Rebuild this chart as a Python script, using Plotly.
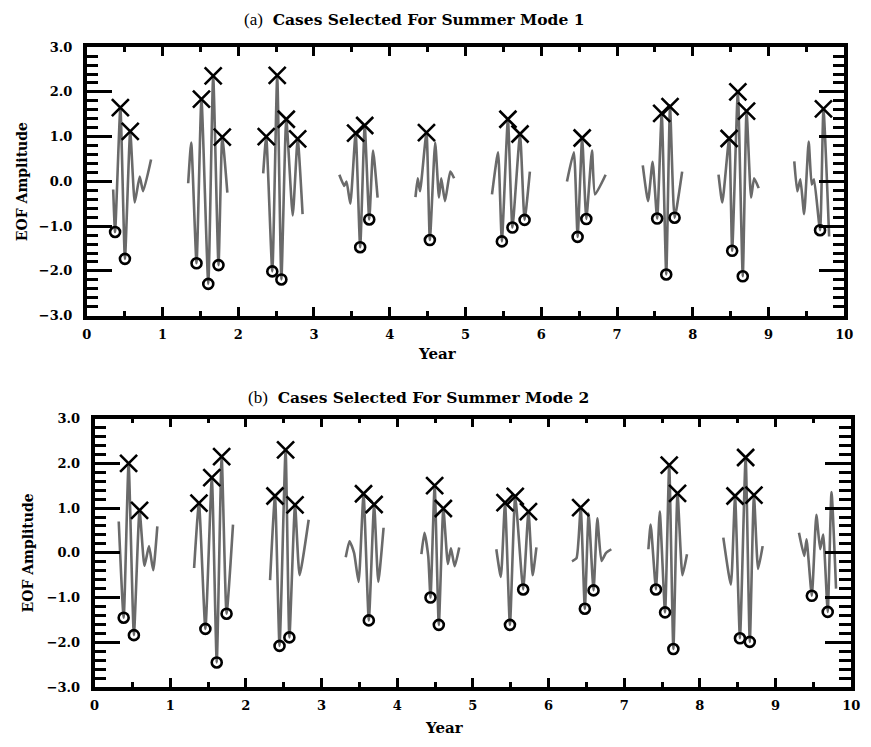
import plotly.graph_objects as go

# ---------------- data (years, EOF amplitude); None separates summers ----------------
MODE1_T = [0.35, 0.375, 0.445, 0.505, 0.575, 0.635, 0.70, 0.745, 0.85, None,
           1.34, 1.38, 1.45, 1.515, 1.605, 1.67, 1.74, 1.79, 1.857, None,
           2.33, 2.37, 2.45, 2.515, 2.57, 2.635, 2.72, 2.785, 2.85, None,
           3.335, 3.40, 3.43, 3.48, 3.55, 3.61, 3.67, 3.73, 3.78, 3.84, None,
           4.34, 4.37, 4.40, 4.485, 4.53, 4.60, 4.65, 4.68, 4.73, 4.80, 4.85, None,
           5.35, 5.43, 5.48, 5.56, 5.62, 5.72, 5.78, 5.85, None,
           6.34, 6.43, 6.48, 6.54, 6.595, 6.67, 6.71, 6.85, None,
           7.34, 7.41, 7.47, 7.53, 7.59, 7.65, 7.70, 7.76, 7.86, None,
           8.34, 8.39, 8.48, 8.52, 8.595, 8.66, 8.71, 8.77, 8.81, 8.87, None,
           9.34, 9.38, 9.42, 9.47, 9.53, 9.57, 9.60, 9.68, 9.725, 9.80]
MODE1_V = [-0.18, -1.13, 1.65, -1.73, 1.12, -0.47, 0.11, -0.22, 0.49, None,
           -0.04, 0.87, -1.83, 1.84, -2.29, 2.36, -1.87, 0.99, -0.25, None,
           0.18, 1.0, -2.01, 2.37, -2.19, 1.39, -0.76, 0.95, -0.73, None,
           0.15, -0.1, 0.0, -0.5, 1.08, -1.47, 1.25, -0.85, 0.69, -0.36, None,
           -0.35, 0.07, -0.22, 1.09, -1.31, 0.87, -0.36, 0.07, -0.44, 0.22, 0.07, None,
           -0.29, 0.65, -1.34, 1.39, -1.03, 1.06, -0.86, 0.22, None,
           0.0, 0.65, -1.24, 0.97, -0.84, 0.69, -0.29, 0.15, None,
           0.36, -0.44, 0.44, -0.83, 1.52, -2.08, 1.67, -0.81, 0.22, None,
           0.15, -0.47, 0.96, -1.55, 2.0, -2.12, 1.57, -0.36, 0.07, -0.15, None,
           0.45, -0.22, 0.05, -0.73, 0.89, -0.07, 0.05, -1.09, 1.62, -1.23]
MODE1_PEAK_T = [0.445, 0.575, 1.515, 1.67, 1.79, 2.37, 2.515, 2.635, 2.785, 3.55, 3.67,
                4.485, 5.56, 5.72, 6.54, 7.59, 7.70, 8.48, 8.595, 8.71, 9.725]
MODE1_PEAK_V = [1.65, 1.12, 1.84, 2.36, 0.99, 1.0, 2.37, 1.39, 0.95, 1.08, 1.25,
                1.09, 1.39, 1.06, 0.97, 1.52, 1.67, 0.96, 2.0, 1.57, 1.62]
MODE1_TROUGH_T = [0.375, 0.505, 1.45, 1.605, 1.74, 2.45, 2.57, 3.61, 3.73, 4.53,
                  5.48, 5.62, 5.78, 6.48, 6.595, 7.53, 7.65, 7.76, 8.52, 8.66, 9.68]
MODE1_TROUGH_V = [-1.13, -1.73, -1.83, -2.29, -1.87, -2.01, -2.19, -1.47, -0.85, -1.31,
                  -1.34, -1.03, -0.86, -1.24, -0.84, -0.83, -2.08, -0.81, -1.55, -2.12, -1.09]

MODE2_T = [0.32, 0.385, 0.45, 0.52, 0.595, 0.66, 0.72, 0.775, 0.83, None,
           1.316, 1.38, 1.465, 1.55, 1.615, 1.68, 1.745, 1.83, None,
           2.32, 2.385, 2.445, 2.525, 2.575, 2.65, 2.71, 2.83, None,
           3.32, 3.37, 3.43, 3.49, 3.555, 3.625, 3.695, 3.75, 3.82, None,
           4.32, 4.36, 4.41, 4.44, 4.495, 4.55, 4.61, 4.67, 4.71, 4.76, 4.82, None,
           5.31, 5.37, 5.425, 5.49, 5.56, 5.665, 5.735, 5.79, 5.84, None,
           6.31, 6.37, 6.425, 6.48, 6.53, 6.595, 6.645, 6.70, 6.76, 6.83, None,
           7.32, 7.35, 7.42, 7.47, 7.54, 7.595, 7.65, 7.705, 7.77, 7.83, None,
           8.31, 8.41, 8.465, 8.53, 8.605, 8.66, 8.715, 8.77, 8.83, None,
           9.31, 9.38, 9.41, 9.48, 9.54, 9.59, 9.63, 9.69, 9.74, 9.80]
MODE2_V = [0.70, -1.45, 2.0, -1.84, 0.95, -0.29, 0.15, -0.39, 0.59, None,
           -0.34, 1.11, -1.70, 1.68, -2.45, 2.15, -1.36, 0.63, None,
           -0.61, 1.27, -2.08, 2.30, -1.89, 1.07, -0.50, 0.74, None,
           -0.10, 0.26, 0.0, -0.65, 1.32, -1.51, 1.08, -0.65, 0.56, None,
           -0.03, 0.45, -0.07, -1.0, 1.50, -1.61, 0.99, -0.25, 0.10, -0.30, 0.12, None,
           0.08, -0.54, 1.12, -1.61, 1.26, -0.82, 0.92, -0.50, 0.12, None,
           -0.19, -0.12, 1.01, -1.25, 0.88, -0.84, 0.77, -0.18, 0.0, 0.08, None,
           0.08, 0.63, -0.82, 0.92, -1.33, 1.96, -2.15, 1.33, -0.50, -0.03, None,
           0.34, -0.71, 1.27, -1.91, 2.13, -1.99, 1.29, -0.36, 0.15, None,
           0.45, -0.07, 0.30, -0.96, 0.85, 0.08, 0.41, -1.32, 1.36, -0.80]
MODE2_PEAK_T = [0.45, 0.595, 1.38, 1.55, 1.68, 2.385, 2.525, 2.65, 3.555, 3.695,
                4.495, 4.61, 5.425, 5.56, 5.735, 6.425, 7.595, 7.705, 8.465, 8.605, 8.715]
MODE2_PEAK_V = [2.0, 0.95, 1.11, 1.68, 2.15, 1.27, 2.30, 1.07, 1.32, 1.08,
                1.50, 0.99, 1.12, 1.26, 0.92, 1.01, 1.96, 1.33, 1.27, 2.13, 1.29]
MODE2_TROUGH_T = [0.385, 0.52, 1.465, 1.615, 1.745, 2.445, 2.575, 3.625, 4.44, 4.55,
                  5.49, 5.665, 6.48, 6.595, 7.42, 7.54, 7.65, 8.53, 8.66, 9.48, 9.69]
MODE2_TROUGH_V = [-1.45, -1.84, -1.70, -2.45, -1.36, -2.08, -1.89, -1.51, -1.0, -1.61,
                  -1.61, -0.82, -1.25, -0.84, -0.82, -1.33, -2.15, -1.91, -1.99, -0.96, -1.32]

X_TICKS = [0, 1, 2, 3, 4, 5, 6, 7, 8, 9, 10]
X_TICK_LABELS = ["0", "1", "2", "3", "4", "5", "6", "7", "8", "9", "10"]
Y_TICKS = [-3, -2, -1, 0, 1, 2, 3]
Y_TICK_LABELS = ["\u22123.0", "\u22122.0", "\u22121.0", "0.0", "1.0", "2.0", "3.0"]

TITLE_A = "(a)"
TITLE_A_BOLD = "Cases Selected For Summer Mode 1"
TITLE_B = "(b)"
TITLE_B_BOLD = "Cases Selected For Summer Mode 2"

# ---------------- figure ----------------
W, H = 871, 747
LINE_GRAY = "#6a6a6a"
BOLD_FONT = "DejaVu Serif"

fig = go.Figure()

panels = [
    (MODE1_T, MODE1_V, MODE1_PEAK_T, MODE1_PEAK_V, MODE1_TROUGH_T, MODE1_TROUGH_V, "x", "y"),
    (MODE2_T, MODE2_V, MODE2_PEAK_T, MODE2_PEAK_V, MODE2_TROUGH_T, MODE2_TROUGH_V, "x2", "y2"),
]
for t, v, pt, pv, tt, tv, xa, ya in panels:
    fig.add_trace(go.Scatter(x=t, y=v, mode="lines", xaxis=xa, yaxis=ya,
                             line=dict(color=LINE_GRAY, width=2.6, shape="spline",
                                       smoothing=0.5),
                             connectgaps=False, showlegend=False, hoverinfo="skip"))
    fig.add_trace(go.Scatter(x=pt, y=pv, mode="markers", xaxis=xa, yaxis=ya,
                             marker=dict(symbol="x-thin-open", size=17, color="black",
                                         line=dict(color="black", width=2.6)),
                             showlegend=False))
    fig.add_trace(go.Scatter(x=tt, y=tv, mode="markers", xaxis=xa, yaxis=ya,
                             marker=dict(symbol="circle-open", size=10, color="black",
                                         line=dict(color="black", width=2.6)),
                             showlegend=False))

def px_x(p):
    return p / W

def px_y(p):
    return 1 - p / H

tickfont = dict(family=BOLD_FONT, size=13, color="black", weight="bold")

def xaxis_cfg(l, r, anchor):
    return dict(domain=[px_x(l), px_x(r)], range=[0, 10], anchor=anchor,
                tickmode="array", tickvals=X_TICKS, ticktext=X_TICK_LABELS,
                ticks="inside", ticklen=9, tickwidth=3, tickcolor="black",
                minor=dict(dtick=0.5, tick0=0, ticks="inside", ticklen=5, tickwidth=2.5,
                           tickcolor="black", showgrid=False),
                showline=True, linewidth=3.5, linecolor="black", mirror="ticks",
                showgrid=False, zeroline=False, tickfont=tickfont, ticklabelstandoff=4)

def yaxis_cfg(top, bot, anchor):
    return dict(domain=[px_y(bot), px_y(top)], range=[-3, 3], anchor=anchor,
                tickmode="array", tickvals=Y_TICKS, ticktext=Y_TICK_LABELS,
                ticks="inside", ticklen=26, tickwidth=3, tickcolor="black",
                minor=dict(dtick=0.2, tick0=0, ticks="inside", ticklen=12, tickwidth=2.5,
                           tickcolor="black", showgrid=False),
                showline=True, linewidth=3.5, linecolor="black", mirror="ticks",
                showgrid=False, zeroline=False, tickfont=tickfont, ticklabelstandoff=8)

fig.update_layout(
    width=W, height=H, margin=dict(l=0, r=0, t=0, b=0),
    paper_bgcolor="white", plot_bgcolor="white",
    xaxis=xaxis_cfg(83, 853, "y"),
    yaxis=yaxis_cfg(41, 315, "x"),
    xaxis2=xaxis_cfg(91, 860, "y2"),
    yaxis2=yaxis_cfg(420, 694, "x2"),
    showlegend=False,
)

def title_text(a, b):
    return (f"<span style='font-family:Liberation Serif;font-weight:normal;font-size:17px'>{a}</span>"
            f"  <b>{b}</b>")

annos = [
    dict(text=title_text(TITLE_A, TITLE_A_BOLD), x=px_x(416), y=px_y(13), size=15.5),
    dict(text=title_text(TITLE_B, TITLE_B_BOLD), x=px_x(420), y=px_y(398), size=15.5),
    dict(text="<b>Year</b>", x=px_x(440), y=px_y(354), size=15),
    dict(text="<b>Year</b>", x=px_x(447), y=px_y(736), size=15),
    dict(text="<b>EOF Amplitude</b>", x=px_x(18), y=px_y(178), textangle=-90, size=14),
    dict(text="<b>EOF Amplitude</b>", x=px_x(23), y=px_y(557), textangle=-90, size=14),
]
for a in annos:
    size = a.pop("size")
    fig.add_annotation(xref="paper", yref="paper", showarrow=False,
                       xanchor="center", yanchor="middle",
                       font=dict(family=BOLD_FONT, size=size, color="black"), **a)

fig.write_html("out.html")
